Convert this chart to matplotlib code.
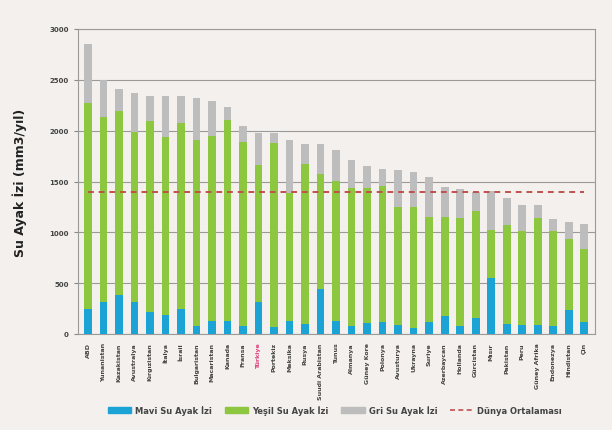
import matplotlib
matplotlib.use("Agg")
import matplotlib.pyplot as plt
import numpy as np
from matplotlib.lines import Line2D
from matplotlib.patches import Patch

countries = ["ABD", "Yunanistan", "Kazakistan", "Avustralya", "Kırgızistan", "İtalya",
             "İsrail", "Bulgaristan", "Macaristan", "Kanada", "Fransa", "Türkiye",
             "Portekiz", "Meksika", "Rusya", "Suudi Arabistan", "Tunus", "Almanya",
             "Güney Kore", "Polonya", "Avusturya", "Ukrayna", "Suriye", "Azerbaycan",
             "Hollanda", "Gürcistan", "Mısır", "Pakistan", "Peru", "Güney Afrika",
             "Endonezya", "Hindistan", "Çin"]
blue = [245, 310, 386, 317, 212, 190, 245, 82, 124, 124, 82, 317,
        65, 131, 98, 441, 124, 75, 108, 114, 92, 56, 114, 180,
        75, 154, 546, 98, 92, 92, 75, 235, 114]
green_top = [2271, 2134, 2196, 1984, 2092, 1935, 2075, 1905, 1951, 2108, 1886, 1667,
             1879, 1389, 1673, 1578, 1503, 1438, 1438, 1454, 1252, 1252, 1150, 1150,
             1144, 1209, 1020, 1069, 1013, 1144, 1013, 938, 833]
total = [2850, 2500, 2408, 2369, 2343, 2343, 2343, 2320, 2294, 2232, 2049, 1977,
         1977, 1912, 1873, 1873, 1807, 1709, 1650, 1624, 1618, 1592, 1542, 1444,
         1422, 1395, 1405, 1340, 1265, 1265, 1134, 1101, 1085]
world_avg = 1400

green = [g - b for g, b in zip(green_top, blue)]
grey = [t - g for t, g in zip(total, green_top)]

bg = "#f3f0ed"
c_blue = "#1ba3d6"
c_green = "#8dc63f"
c_grey = "#bdbdbd"
c_red = "#c0504d"

fig = plt.figure(figsize=(6.12, 4.31), dpi=100, facecolor=bg)
ax = fig.add_axes([78/612, 1-335/431, (595-78)/612, (335-30)/431])
ax.set_facecolor(bg)

x = np.arange(len(countries))
w = 0.5
ax.bar(x, blue, w, color=c_blue, zorder=3)
ax.bar(x, green, w, bottom=blue, color=c_green, zorder=3)
ax.bar(x, grey, w, bottom=green_top, color=c_grey, zorder=3)
ax.plot(x, [world_avg]*len(x), linestyle=(0, (3, 2.5)), color=c_red, lw=1.4, zorder=4)

ax.set_ylim(0, 3000)
ax.set_xlim(-0.65, len(x) - 0.3)
ax.set_yticks(np.arange(0, 3001, 500))
ax.yaxis.grid(True, color="#9a9a9a", lw=0.8, zorder=0)
ax.tick_params(axis="y", labelsize=5, length=3, color="#888888", colors="#444444")
for lab in ax.get_yticklabels():
    lab.set_fontweight("bold")
ax.set_xticks(x)
ax.set_xticklabels(countries, rotation=90, fontsize=4.5, fontweight="bold", color="#444444")
ax.tick_params(axis="x", length=0, pad=6)
for lab in ax.get_xticklabels():
    if lab.get_text() == "Türkiye":
        lab.set_color("#e0407a")
for s in ax.spines.values():
    s.set_color("#9a9a9a")
    s.set_linewidth(0.8)
ax.set_ylabel("Su Ayak İzi (mm3/yıl)", fontsize=9, fontweight="bold", color="#222222", labelpad=16)

handles = [Patch(color=c_blue), Patch(color=c_green), Patch(color=c_grey),
           Line2D([0], [0], color=c_red, linestyle=(0, (3, 2)), lw=1.2)]
labels = ["Mavi Su Ayak İzi", "Yeşil Su Ayak İzi", "Gri Su Ayak İzi", "Dünya Ortalaması"]
fig.legend(handles, labels, loc="center", bbox_to_anchor=(335/612, 1-411/431), ncol=4,
           frameon=False, handlelength=2.8, handleheight=0.6, handletextpad=0.5,
           columnspacing=1.5, prop={"size": 6, "weight": "bold"}, labelcolor="#444444")

fig.savefig("out.png", dpi=100, facecolor=bg)
